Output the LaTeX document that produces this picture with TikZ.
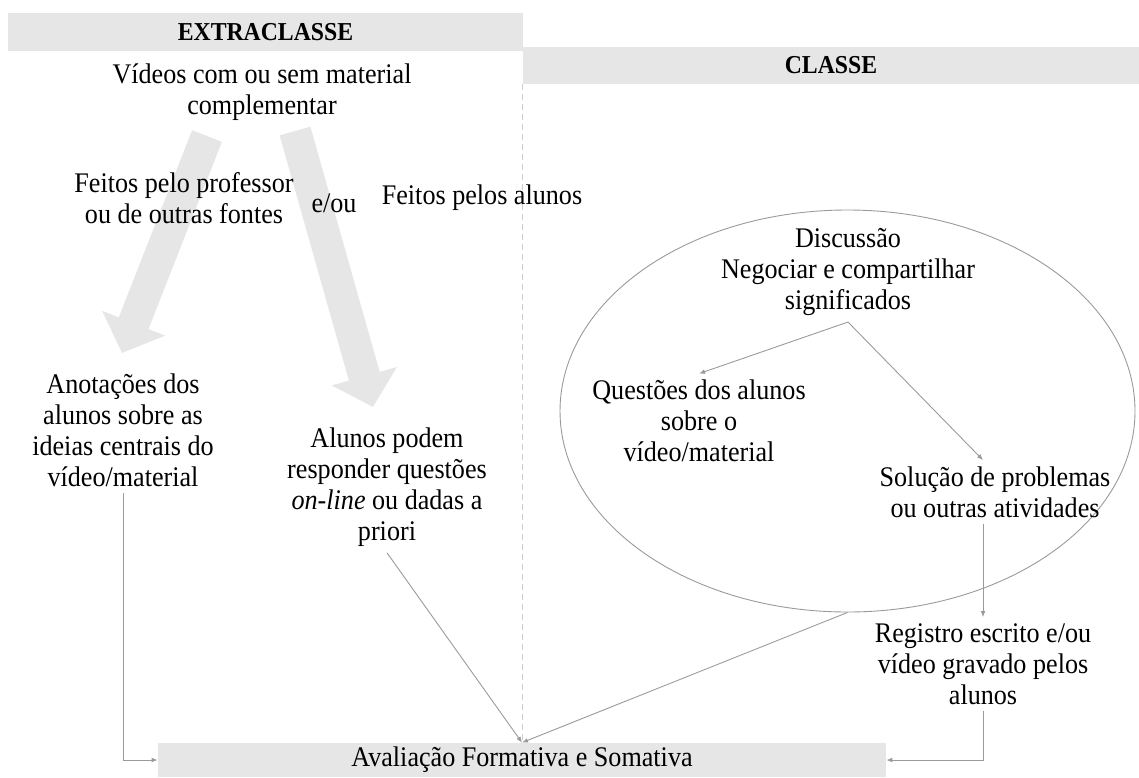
\documentclass[tikz,border=0pt]{standalone}
\usepackage{fontspec}
\setmainfont{Liberation Serif}[FakeStretch=0.92]
\usetikzlibrary{arrows.meta,shapes.geometric}

\definecolor{bandgray}{HTML}{E6E6E6}
\definecolor{linegray}{HTML}{9A9A9A}

\tikzset{
  txt/.style={align=center, inner sep=3pt, font=\fontsize{14.2}{15.5}\selectfont},
  banner/.style={fill=bandgray, inner sep=0pt, font=\fontsize{12.9}{14}\selectfont\bfseries},
  bigarrow/.style={draw=bandgray, line width=16pt, -{Triangle[length=16pt,width=33pt]}},
  conn/.style={draw=linegray, line width=0.45pt, -{Latex[length=3pt,width=2.4pt]}},
}

\begin{document}
\begin{tikzpicture}[x=0.5pt,y=-0.5pt]
	\useasboundingbox (0,0) rectangle (1139,777);
	
	% faixas de titulo
	\node[banner, minimum width=257.5pt, minimum height=19pt] (extra) at (265.5,32) {EXTRACLASSE};
	\node[banner, minimum width=308pt, minimum height=18.5pt] (classe) at (831,65) {CLASSE};
	\node[fill=bandgray, minimum width=364pt, minimum height=17pt, inner sep=0pt,
	      font=\fontsize{14.2}{15.5}\selectfont] (aval) at (522,760) {Avaliação Formativa e Somativa};
	\draw[gray!40, line width=0.3pt, densely dashed] (classe.south west) -- (classe.south west |- aval.north);
	
	% setas largas
	\coordinate (profA) at (207,136);
	\coordinate (profB) at (122,353);
	\coordinate (aluA) at (295,131);
	\coordinate (aluB) at (373,407);
	\draw[bigarrow] (profA) -- (profB);
	\draw[bigarrow] (aluA) -- (aluB);
	
	% extraclasse
	\node[txt] (videos) at (262,92.5) {Vídeos com ou sem material\\complementar};
	\node[txt] (feitosprof) at (184,198) {Feitos pelo professor\\ou de outras fontes};
	\node[txt] (eou) at (334,203) {e/ou};
	\node[txt] (feitosalu) at (482,198) {Feitos pelos alunos};
	\node[txt] (anot) at (123,430) {Anotações dos\\alunos sobre as\\ideias centrais do\\vídeo/material};
	\node[txt] (alunos) at (387,487) {Alunos podem\\responder questões\\\textit{on-line} ou dadas a\\priori};
	
	% classe
	\node[draw=linegray, line width=0.45pt, ellipse, inner sep=0pt,
	      minimum width=287.5pt, minimum height=201pt] (disco) at (847.5,411) {};
	\node[txt] (disc) at (848,272) {Discussão\\Negociar e compartilhar\\significados};
	\node[txt] (quest) at (699,421) {Questões dos alunos\\sobre o\\vídeo/material};
	\node[txt] (sol) at (995,492) {Solução de problemas\\ou outras atividades};
	\node[txt] (reg) at (983,664) {Registro escrito e/ou\\vídeo gravado pelos\\alunos};
	
	\draw[conn] (disc.south) -- (quest.north);
	\draw[conn] (disc.south) -- (sol.north -| reg.north);
	\draw[conn] (sol.south -| reg.north) -- (reg.north);
	\draw[conn] (reg.south) |- (aval.east);
	\draw[conn] (anot.south) |- (aval.west);
	\draw[conn] (alunos.south) -- (aval.north);
	\draw[conn] (disco.south) -- (aval.north);
\end{tikzpicture}
\end{document}
